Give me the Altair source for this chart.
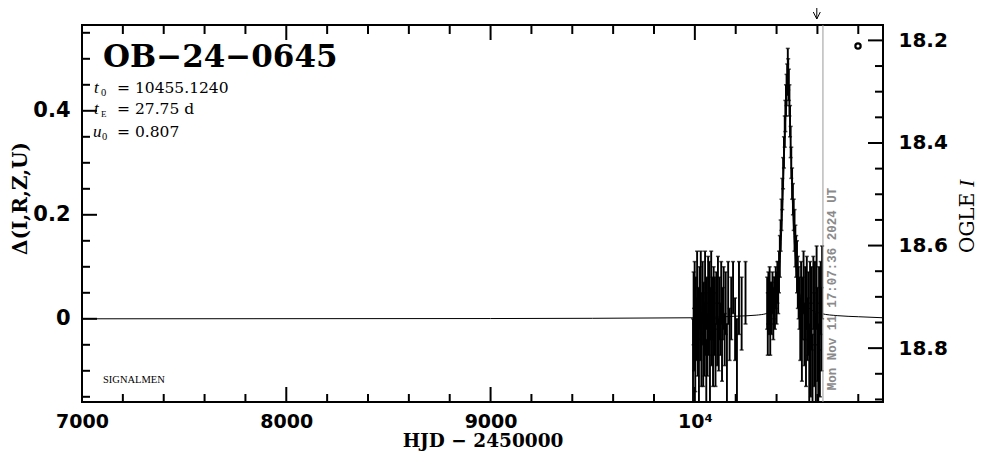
import altair as alt
import pandas as pd

# ---------------- data ----------------
hjd_2023 = [
    9991, 9994, 9996, 9999, 10002, 10005, 10008, 10011, 10014, 10017,
    10020, 10023, 10026, 10029, 10032, 10035, 10038, 10041, 10044, 10047,
    10050, 10053, 10056, 10059, 10062, 10065, 10068, 10071, 10074, 10077,
    10080, 10083, 10086, 10089, 10092, 10095, 10098, 10101, 10105, 10109,
    10113, 10117, 10121, 10125, 10129, 10133, 10137, 10141, 10146, 10151,
    10157, 10163, 10170, 10178, 10187, 10197, 10206, 10216, 10229, 10248]
delta_2023 = [
    -0.08, 0.02, -0.04, 0.05, -0.07, 0.03, -0.02, 0.06, -0.05, 0.01,
    -0.09, 0.04, -0.03, 0.07, -0.06, 0.00, 0.05, -0.07, 0.02, -0.04,
    0.08, -0.01, -0.10, 0.03, -0.05, 0.06, -0.02, 0.04, -0.11, 0.01,
    0.07, -0.04, 0.02, -0.06, 0.05, -0.01, 0.03, -0.07, 0.04, -0.03,
    0.06, -0.05, 0.02, -0.02, 0.05, -0.06, 0.01, 0.04, -0.04, 0.03,
    -0.09, 0.05, -0.03, 0.02, 0.06, -0.02, -0.08, 0.04, 0.01, 0.05]
err_2023 = [
    0.08, 0.07, 0.06, 0.06, 0.07, 0.05, 0.06, 0.07, 0.06, 0.05,
    0.07, 0.06, 0.05, 0.06, 0.07, 0.05, 0.06, 0.06, 0.05, 0.07,
    0.05, 0.06, 0.06, 0.05, 0.06, 0.06, 0.05, 0.07, 0.08, 0.05,
    0.06, 0.05, 0.06, 0.07, 0.05, 0.06, 0.05, 0.06, 0.05, 0.06,
    0.06, 0.05, 0.06, 0.05, 0.06, 0.06, 0.05, 0.06, 0.05, 0.06,
    0.08, 0.06, 0.05, 0.06, 0.05, 0.06, 0.08, 0.07, 0.07, 0.06]

hjd_2024 = [
    10354, 10357, 10360, 10363, 10366, 10369, 10372, 10376, 10380, 10384,
    10388, 10392, 10396, 10400, 10404, 10408, 10412, 10416, 10420, 10424,
    10428, 10432, 10436, 10440, 10443, 10446, 10449, 10452, 10455, 10457,
    10460, 10463, 10466, 10469, 10472, 10476, 10480, 10484, 10488, 10492,
    10496, 10500, 10504, 10508, 10512, 10516, 10520, 10524, 10528, 10532,
    10536, 10540, 10544, 10548, 10552, 10556, 10560, 10564, 10568, 10572,
    10576, 10580, 10584, 10588, 10592, 10596, 10600, 10604, 10608, 10612,
    10616, 10620, 10623]
delta_2024 = [
    0.03, -0.01, 0.04, 0.01, 0.05, -0.02, 0.03, 0.02, 0.05, 0.01,
    0.04, 0.03, 0.06, 0.04, 0.07, 0.06, 0.09, 0.12, 0.16, 0.20,
    0.24, 0.28, 0.32, 0.36, 0.39, 0.42, 0.44, 0.46, 0.48, 0.47,
    0.45, 0.42, 0.38, 0.34, 0.30, 0.26, 0.23, 0.20, 0.17, 0.14,
    0.12, 0.10, 0.07, 0.05, 0.03, -0.02, 0.06, -0.05, 0.02, 0.07,
    -0.03, 0.03, -0.07, 0.05, -0.02, 0.01, -0.09, 0.04, -0.06, 0.02,
    -0.11, 0.05, -0.04, 0.03, -0.08, 0.06, -0.03, -0.10, 0.02, -0.06,
    0.04, -0.02, 0.07]
err_2024 = [
    0.05, 0.06, 0.05, 0.04, 0.05, 0.05, 0.04, 0.05, 0.04, 0.05,
    0.04, 0.05, 0.04, 0.05, 0.04, 0.05, 0.04, 0.04, 0.03, 0.03,
    0.03, 0.03, 0.03, 0.03, 0.03, 0.03, 0.03, 0.03, 0.04, 0.03,
    0.03, 0.03, 0.03, 0.03, 0.03, 0.03, 0.03, 0.03, 0.04, 0.04,
    0.04, 0.05, 0.05, 0.05, 0.05, 0.06, 0.05, 0.07, 0.06, 0.06,
    0.06, 0.07, 0.06, 0.07, 0.06, 0.08, 0.08, 0.07, 0.09, 0.08,
    0.08, 0.07, 0.09, 0.08, 0.09, 0.08, 0.09, 0.09, 0.08, 0.09,
    0.07, 0.08, 0.07]

model_hjd = [7000, 9000, 10000, 10200, 10300, 10350, 10380, 10400, 10415, 10425,
             10432, 10438, 10444, 10449, 10453, 10455, 10457, 10461, 10466, 10472,
             10478, 10485, 10495, 10510, 10530, 10560, 10620, 10700, 10800, 10921]
model_delta = [0.0, 0.0005, 0.002, 0.005, 0.007, 0.010, 0.022, 0.05, 0.10, 0.17,
               0.24, 0.31, 0.38, 0.43, 0.452, 0.456, 0.452, 0.43, 0.37, 0.29,
               0.22, 0.16, 0.10, 0.055, 0.032, 0.020, 0.010, 0.006, 0.004, 0.002]

date_line_hjd = [10627]
arrow_hjd = [10597]

x_major_ticks = [7000, 8000, 9000, 10000]
x_minor_ticks = [7200, 7400, 7600, 7800, 8200, 8400, 8600, 8800,
                 9200, 9400, 9600, 9800, 10200, 10400, 10600, 10800]
y_major_ticks = [0.0, 0.2, 0.4]
y_minor_ticks = [-0.15, -0.10, -0.05, 0.05, 0.10, 0.15, 0.25, 0.30, 0.35, 0.45, 0.50, 0.55]
mag_major_ticks = [18.2, 18.4, 18.6, 18.8]
mag_minor_ticks = [18.25, 18.30, 18.35, 18.45, 18.50, 18.55, 18.65, 18.70, 18.75, 18.85, 18.90]

event_name = "OB−24−0645"
t0_text = "= 10455.1240"
tE_text = "= 27.75 d"
u0_text = "= 0.807"
stamp_text = "Mon Nov 11 17:07:36 2024 UT"
credit_text = "SIGNALMEN"

# ---------------- layout ----------------
W, H = 801, 377
xs = alt.Scale(domain=[7000, 10921], nice=False, zero=False)
ds = alt.Scale(domain=[-0.16, 0.565], nice=False, zero=False)
ms = alt.Scale(domain=[18.17, 18.905], nice=False, zero=False, reverse=True)

obs = pd.DataFrame({"hjd": hjd_2023 + hjd_2024,
                    "delta": delta_2023 + delta_2024,
                    "err": err_2023 + err_2024})
obs["lo"] = obs["delta"] - obs["err"]
obs["hi"] = obs["delta"] + obs["err"]
model = pd.DataFrame({"hjd": model_hjd, "delta": model_delta})

x_axis = alt.Axis(values=x_major_ticks,
                  labelExpr="datum.value == 10000 ? '10⁴' : format(datum.value, 'd')",
                  title="HJD − 2450000", labelFontSize=19, labelPadding=10,
                  labelFlush=False, titleY=38, titleBaseline="middle", titleFontSize=18.5)
d_axis = alt.Axis(orient="left", values=y_major_ticks,
                  labelExpr="datum.value == 0 ? '0' : format(datum.value, '.1f')",
                  title="Δ(I,R,Z,U)", labelFontSize=21, labelPadding=12,
                  titleX=-62, titleY=173, titleAlign="center", titleBaseline="middle",
                  titleFontSize=20)
m_axis = alt.Axis(orient="right", values=mag_major_ticks, format=".1f",
                  title="", labelFontSize=20, labelPadding=15)

one = pd.DataFrame({"k": [0]})


def txt(s, x, y, size, font, weight="normal", style="normal", align="left",
        baseline="alphabetic", angle=0, color="black"):
    return alt.Chart(pd.DataFrame({"t": [s]})).mark_text(
        align=align, baseline=baseline, font=font, fontSize=size,
        fontWeight=weight, fontStyle=style, angle=angle, color=color
    ).encode(x=alt.value(x), y=alt.value(y), text="t:N")


def X():
    return alt.X("hjd:Q", scale=xs, axis=x_axis)


def D(field):
    return alt.Y(field, type="quantitative", scale=ds, axis=d_axis)


def M():
    return alt.Y("mag:Q", scale=ms, axis=m_axis)


model_line = alt.Chart(model).mark_line(color="black", strokeWidth=1, clip=True,
                                        interpolate="monotone").encode(x=X(), y=D("delta"))

bars = alt.Chart(obs).mark_rule(color="black", strokeWidth=1.9, clip=True).encode(
    x=X(), y=D("lo"), y2="hi:Q")
cap_lo = alt.Chart(obs).mark_tick(color="black", orient="horizontal", size=4,
                                  thickness=1.5, clip=True).encode(x=X(), y=D("lo"))
cap_hi = alt.Chart(obs).mark_tick(color="black", orient="horizontal", size=4,
                                  thickness=1.5, clip=True).encode(x=X(), y=D("hi"))

date_line = alt.Chart(pd.DataFrame({"hjd": date_line_hjd})).mark_rule(
    color="#9a9a9a", strokeWidth=1).encode(x=X())
arrow_shaft = alt.Chart(pd.DataFrame({"hjd": arrow_hjd})).mark_rule(
    color="black", strokeWidth=1).encode(x=X(), y=alt.value(-17), y2=alt.value(-6))
arrow_head = alt.Chart(pd.DataFrame({"hjd": arrow_hjd})).mark_point(
    shape="M-1,-2L0,0L1,-2", filled=False, size=49, strokeWidth=1,
    color="black", opacity=1).encode(x=X(), y=alt.value(-6))

xmaj = pd.DataFrame({"hjd": x_major_ticks})
xmin = pd.DataFrame({"hjd": x_minor_ticks})
tick_style = dict(color="black", strokeWidth=2)
bot_maj = alt.Chart(xmaj).mark_rule(**tick_style).encode(x=X(), y=alt.value(H - 15), y2=alt.value(H))
bot_min = alt.Chart(xmin).mark_rule(**tick_style).encode(x=X(), y=alt.value(H - 8), y2=alt.value(H))
top_maj = alt.Chart(xmaj).mark_rule(**tick_style).encode(x=X(), y=alt.value(0), y2=alt.value(15))
top_min = alt.Chart(xmin).mark_rule(**tick_style).encode(x=X(), y=alt.value(0), y2=alt.value(9))
left_maj = alt.Chart(pd.DataFrame({"d": y_major_ticks})).mark_rule(**tick_style).encode(
    y=D("d"), x=alt.value(0), x2=alt.value(15))
left_min = alt.Chart(pd.DataFrame({"d": y_minor_ticks})).mark_rule(**tick_style).encode(
    y=D("d"), x=alt.value(0), x2=alt.value(8))

legend_o = alt.Chart(one).mark_point(shape="circle", filled=False, size=28,
                                     strokeWidth=2.2, color="black", opacity=1).encode(
    x=alt.value(776), y=alt.value(21))

serif = "DejaVu Serif"
lib = "Liberation Serif"
texts = [
    txt(event_name, 21, 42, 31, serif, weight="bold"),
    txt("t", 12, 68, 17, lib, style="italic"),
    txt("0", 19, 71, 10.5, lib),
    txt(t0_text, 35, 68, 15.5, serif),
    txt("t", 12, 89, 17, lib, style="italic"),
    txt("E", 19, 92, 9, lib),
    txt(tE_text, 35, 89, 15.5, serif),
    txt("u", 11, 112, 17, lib, style="italic"),
    txt("0", 20, 115, 10.5, lib),
    txt(u0_text, 35, 112, 15.5, serif),
    txt(credit_text, 21, 358, 10.5, lib),
    txt(stamp_text, 750, 264, 12.5, "Liberation Mono", weight="bold",
        align="center", baseline="middle", angle=270, color="#8a8a8a"),
    txt("OGLE", 886, 228, 20, serif, baseline="middle", angle=270),
    txt("I", 886, 162, 21, lib, style="italic", baseline="middle", angle=270),
]

left_group = alt.layer(model_line, bars, cap_lo, cap_hi, date_line, arrow_shaft, arrow_head,
                       bot_maj, bot_min, top_maj, top_min, left_maj, left_min,
                       legend_o, *texts)

mag_anchor = alt.Chart(pd.DataFrame({"mag": mag_major_ticks})).mark_point(opacity=0).encode(
    y=M(), x=alt.value(0))
right_maj = alt.Chart(pd.DataFrame({"mag": mag_major_ticks})).mark_rule(**tick_style).encode(
    y=M(), x=alt.value(W - 15), x2=alt.value(W))
right_min = alt.Chart(pd.DataFrame({"mag": mag_minor_ticks})).mark_rule(**tick_style).encode(
    y=M(), x=alt.value(W - 8), x2=alt.value(W))
right_group = alt.layer(mag_anchor, right_maj, right_min)

chart = alt.layer(left_group, right_group).resolve_scale(y="independent").properties(
    width=W, height=H,
    autosize=alt.AutoSizeParams(type="none"),
    padding={"left": 74, "top": 17, "right": 95, "bottom": 49},
).configure_view(stroke="black", strokeWidth=2).configure_axis(
    domain=False, ticks=False, tickSize=0, grid=False,
    labelFont="DejaVu Sans", labelFontWeight="bold", labelColor="black",
    labelOverlap=False, labelBound=False,
    titleFont="DejaVu Serif", titleFontWeight="bold", titleColor="black",
)

chart.save("out.html", embed_options={"renderer": "svg", "actions": False})
